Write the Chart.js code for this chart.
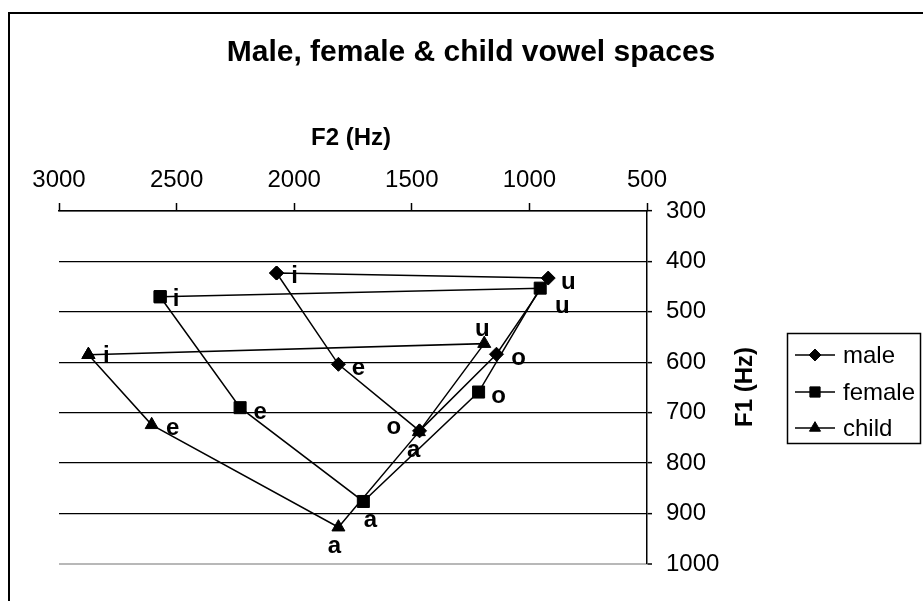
<!DOCTYPE html>
<html><head><meta charset="utf-8">
<script src="https://cdn.jsdelivr.net/npm/chart.js@4/dist/chart.umd.min.js"></script>
<style>html,body{margin:0;padding:0;background:#fff;overflow:hidden}canvas{display:block}</style>
</head><body>
<canvas id="c" width="923" height="601"></canvas>
<script>
// ---- data ----
const vowels = ['i', 'u', 'o', 'a', 'e'];
const maleF2   = [2075, 920, 1140, 1467, 1812];
const maleF1   = [423, 433, 584, 736, 604];
const femaleF2 = [2570, 954, 1216, 1706, 2230];
const femaleF1 = [470, 453, 659, 876, 690];
const childF2  = [2875, 1192, 1470, 1812, 2606];
const childF1  = [585, 563, 738, 927, 724];
const seriesNames = ['male', 'female', 'child'];
const xTicks = [3000, 2500, 2000, 1500, 1000, 500];
const yTicks = [300, 400, 500, 600, 700, 800, 900, 1000];

// ---- styles ----
const FONT = '"Liberation Sans", Arial, sans-serif';
const markerStyles = ['rectRot', 'rect', 'triangle'];
const markerRadius = [7, 8.5, 7.5];
// label offsets (px) relative to marker, per series, per vowel (i,u,o,a,e)
const labelOffsets = [
  [[18, 3], [20, 4], [22, 4], [-6, 20], [20, 4]],
  [[16, 3], [22, 18], [20, 4], [7, 19], [20, 5]],
  [[18, 2], [-2, -14], [-25, -5], [-4, 19], [21, 4]]
];

function closedLoop(xs, ys) {
  const pts = xs.map((x, k) => ({x: x, y: ys[k]}));
  pts.push({x: xs[0], y: ys[0]});
  return pts;
}

function drawMarker(ctx, style, r, x, y) {
  ctx.beginPath();
  if (style === 'rectRot') {
    ctx.moveTo(x - r, y); ctx.lineTo(x, y - r); ctx.lineTo(x + r, y); ctx.lineTo(x, y + r);
  } else if (style === 'rect') {
    const s = r * Math.SQRT1_2;
    ctx.rect(x - s, y - s, 2 * s, 2 * s);
  } else {
    ctx.moveTo(x, y - r);
    ctx.lineTo(x + r * Math.sin(2 * Math.PI / 3), y - r * Math.cos(2 * Math.PI / 3));
    ctx.lineTo(x + r * Math.sin(4 * Math.PI / 3), y - r * Math.cos(4 * Math.PI / 3));
  }
  ctx.closePath();
  ctx.fill();
  ctx.stroke();
}

const series = [
  closedLoop(maleF2, maleF1),
  closedLoop(femaleF2, femaleF1),
  closedLoop(childF2, childF1)
];

const decor = {
  id: 'decor',
  beforeDraw(chart) {
    const ctx = chart.ctx;
    ctx.save();
    ctx.fillStyle = '#fff';
    ctx.fillRect(0, 0, chart.width, chart.height);
    ctx.strokeStyle = '#000';
    ctx.lineWidth = 2;
    ctx.strokeRect(9, 13, 1000, 1000);
    ctx.restore();
  },
  afterDatasetsDraw(chart) {
    const ctx = chart.ctx;
    const xs = chart.scales.x, ys = chart.scales.y;
    ctx.save();
    ctx.fillStyle = '#000';
    ctx.font = 'bold 24px ' + FONT;
    ctx.textAlign = 'center';
    ctx.textBaseline = 'middle';
    const all = [[maleF2, maleF1], [femaleF2, femaleF1], [childF2, childF1]];
    all.forEach((s, si) => {
      vowels.forEach((v, k) => {
        const px = xs.getPixelForValue(s[0][k]);
        const py = ys.getPixelForValue(s[1][k]);
        const o = labelOffsets[si][k];
        ctx.fillText(v, px + o[0], py + o[1]);
      });
    });
    ctx.restore();
  },
  afterDraw(chart) {
    const ctx = chart.ctx;
    ctx.save();
    ctx.fillStyle = '#000';
    ctx.textAlign = 'center';
    ctx.textBaseline = 'middle';
    ctx.font = 'bold 30px ' + FONT;
    ctx.fillText('Male, female & child vowel spaces', 471, 53);
    ctx.font = 'bold 24px ' + FONT;
    ctx.fillText('F2 (Hz)', 351, 138);
    ctx.save();
    ctx.translate(745, 387);
    ctx.rotate(-Math.PI / 2);
    ctx.fillText('F1 (Hz)', 0, 0);
    ctx.restore();
    // legend
    ctx.strokeStyle = '#000';
    ctx.lineWidth = 1.5;
    ctx.strokeRect(787.5, 333.5, 133, 110);
    ctx.font = '24px ' + FONT;
    ctx.textAlign = 'left';
    const rows = [355, 392, 428];
    seriesNames.forEach((n, i) => {
      const y = rows[i];
      ctx.lineWidth = 1.5;
      ctx.beginPath(); ctx.moveTo(795, y); ctx.lineTo(835, y); ctx.stroke();
      ctx.lineWidth = 1;
      drawMarker(ctx, markerStyles[i], markerRadius[i] * 0.85, 815, y);
      ctx.fillText(n, 843, y + 1);
    });
    ctx.restore();
  }
};

new Chart(document.getElementById('c'), {
  type: 'scatter',
  data: {
    datasets: series.map((pts, i) => ({
      label: seriesNames[i],
      data: pts,
      showLine: true,
      borderColor: '#000',
      borderWidth: 1.5,
      backgroundColor: '#000',
      pointStyle: markerStyles[i],
      pointRadius: markerRadius[i],
      pointBorderWidth: 1,
      pointBackgroundColor: '#000',
      pointBorderColor: '#000',
      tension: 0
    }))
  },
  options: {
    responsive: false,
    animation: false,
    events: [],
    layout: {padding: {left: 59, top: 0, right: 0, bottom: 37}},
    plugins: {legend: {display: false}, title: {display: false}, tooltip: {enabled: false}},
    scales: {
      x: {
        type: 'linear', position: 'top', reverse: true, min: 500, max: 3000,
        afterBuildTicks(s) { s.ticks = xTicks.map(v => ({value: v})); },
        afterFit(s) { s.height = 211; },
        ticks: {font: {size: 24, family: FONT}, color: '#000', padding: 8, maxRotation: 0, autoSkip: false,
                callback: v => String(v)},
        grid: {drawOnChartArea: false, drawTicks: true, tickLength: 8, tickColor: '#000', tickWidth: 1.5},
        border: {display: true, color: '#000', width: 1.5}
      },
      y: {
        type: 'linear', position: 'right', reverse: true, min: 300, max: 1000,
        afterBuildTicks(s) { s.ticks = yTicks.map(v => ({value: v})); },
        afterFit(s) { s.width = 276; },
        ticks: {font: {size: 24, family: FONT}, color: '#000', padding: 14, callback: v => String(v)},
        grid: {
          drawOnChartArea: true, drawTicks: true, tickLength: 5,
          color: c => (c.tick && c.tick.value === 1000) ? '#b8b8b8' : '#000',
          lineWidth: c => (c.tick && c.tick.value === 1000) ? 2 : 1.3,
          tickColor: '#000', tickWidth: 1.5
        },
        border: {display: true, color: '#000', width: 1.5}
      }
    }
  },
  plugins: [decor]
});
</script>
</body></html>
